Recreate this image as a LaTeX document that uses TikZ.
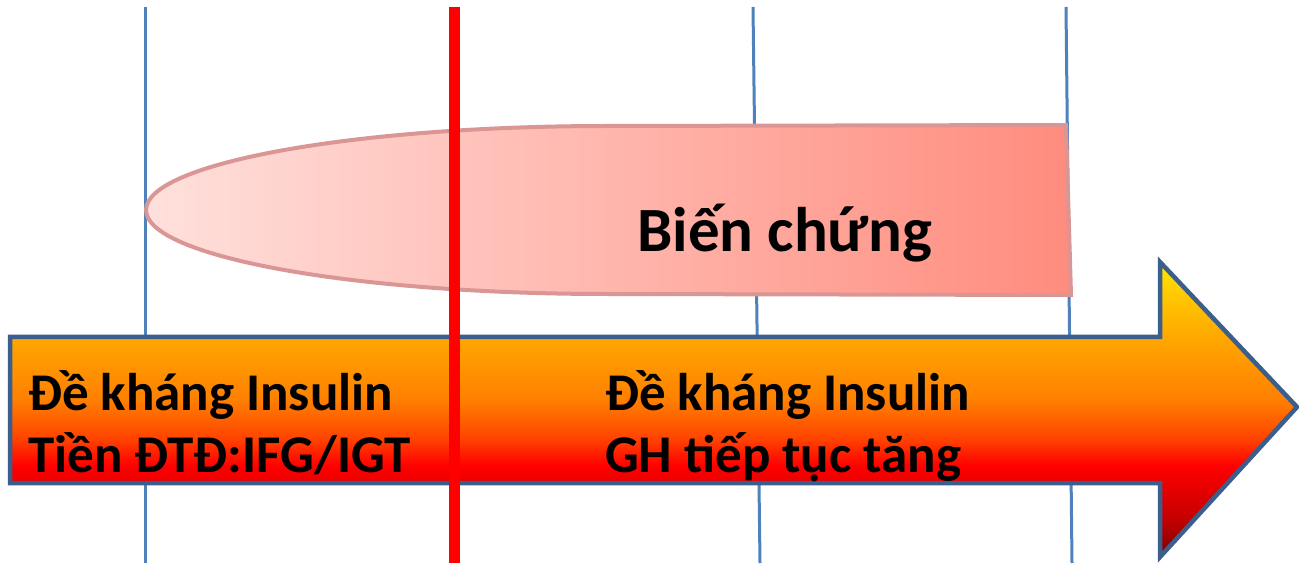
\documentclass[tikz,border=0pt]{standalone}
\usepackage{fontspec}
\setmainfont{Carlito}
\definecolor{gridblue}{HTML}{4F81BD}
\definecolor{cutred}{HTML}{FF0000}
\definecolor{ovalleft}{HTML}{FFE0DC}
\definecolor{ovalright}{HTML}{FF8C7E}
\definecolor{ovaledge}{HTML}{D99694}
\definecolor{arrowedge}{HTML}{3B5E8C}
\definecolor{a0}{HTML}{780000}
\definecolor{a1}{HTML}{C40000}
\definecolor{a2}{HTML}{FF0000}
\definecolor{a3}{HTML}{FF4200}
\definecolor{a4}{HTML}{FF8000}
\definecolor{a5}{HTML}{FFA800}
\definecolor{a6}{HTML}{FFC400}
\definecolor{a7}{HTML}{FFE800}
\pgfdeclareverticalshading{arrowshade}{100bp}{color(0bp)=(a0); color(25bp)=(a0); color(31.4bp)=(a1); color(40.5bp)=(a2); color(45bp)=(a3); color(51.7bp)=(a4); color(62.3bp)=(a5); color(68.6bp)=(a6); color(75bp)=(a7); color(100bp)=(a7)}
\tikzset{
  gridline/.style={draw=gridblue, line width=3pt},
  cutline/.style={draw=cutred, line width=11pt},
  oval/.style={draw=ovaledge, line width=4pt, left color=ovalleft, right color=ovalright},
  bigarrow/.style={shading=arrowshade, draw=arrowedge, line width=4.5pt, line join=miter},
  arrowtext/.style={anchor=base west, inner sep=0pt, font=\fontsize{53}{60}\selectfont\bfseries, text=black},
  ovaltext/.style={anchor=base west, inner sep=0pt, font=\fontsize{63}{70}\selectfont\bfseries, text=black}
}
\begin{document}
\begin{tikzpicture}[x=1pt,y=1pt]
\useasboundingbox (0,0) rectangle (1299,563);
% grid lines
\coordinate (g1t) at (145,556); \coordinate (g1b) at (145,0);
\coordinate (g2t) at (753,556); \coordinate (g2b) at (760,0);
\coordinate (g3t) at (1066,556); \coordinate (g3b) at (1072,0);
\draw[gridline] (g1t) -- (g1b);
\draw[gridline] (g2t) -- (g2b);
\draw[gridline] (g3t) -- (g3b);
% complication oval
\path[oval] (1066,438) -- (607,437) arc[start angle=90, end angle=270, x radius=461pt, y radius=84pt] -- (1071,268) -- cycle;
\node[ovaltext] (bc) at (637,311) {Biến chứng};
% big arrow
\path[bigarrow] (10,226) -- (1160,226) -- (1160,301) -- (1297,156) -- (1160,6) -- (1160,80) -- (10,80) -- cycle;
\node[arrowtext] (l1) at (28,153) {Đề kháng Insulin};
\node[arrowtext] (l2) at (28,91) {Tiền ĐTĐ:IFG/IGT};
\node[arrowtext] (r1) at (605,153) {Đề kháng Insulin};
\node[arrowtext] (r2) at (605,91) {GH tiếp tục tăng};
% red cut line
\coordinate (ct) at (454,556); \coordinate (cb) at (454,0);
\draw[cutline] (ct) -- (cb);
\end{tikzpicture}
\end{document}
